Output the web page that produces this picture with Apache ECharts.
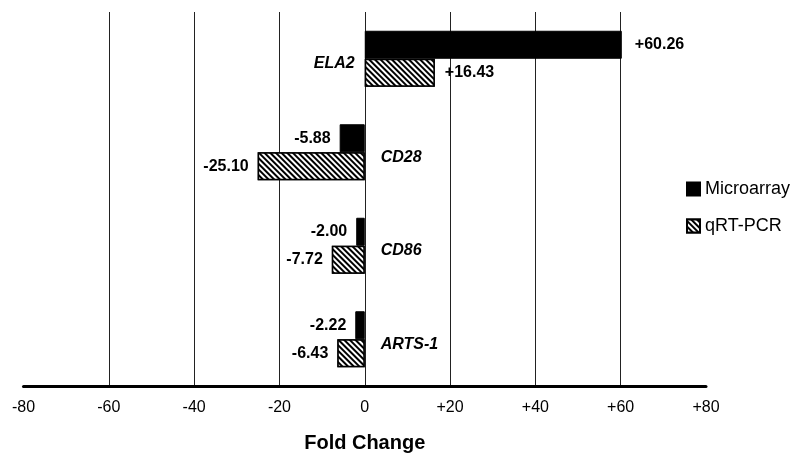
<!DOCTYPE html>
<html><head><meta charset="utf-8">
<script src="https://cdn.jsdelivr.net/npm/echarts@6/dist/echarts.min.js"></script>
<style>html,body{margin:0;padding:0;background:#fff}#c{width:799px;height:453px}</style>
</head><body><div id="c"></div>
<script>
const categories = ['ELA2', 'CD28', 'CD86', 'ARTS-1'];
const microarray = [60.26, -5.88, -2.00, -2.22];
const qrtpcr = [16.43, -25.10, -7.72, -6.43];
const tickLabels = {'-80':'-80','-60':'-60','-40':'-40','-20':'-20','0':'0','20':'+20','40':'+40','60':'+60','80':'+80'};

const FONT = 'Liberation Sans, Arial, sans-serif';
const fmt = v => (v > 0 ? '+' : '') + v.toFixed(2);
const valLabel = {
  show: true, fontFamily: FONT, fontWeight: 'bold', fontSize: 16, color: '#000',
  formatter: p => fmt(p.value)
};
function withPos(arr, distPos, distNeg) {
  return arr.map(v => ({value: v, label: {position: v >= 0 ? 'right' : 'left', distance: v >= 0 ? distPos : distNeg}}));
}
const chart = echarts.init(document.getElementById('c'), null, {renderer: 'canvas'});
chart.setOption({
  animation: false,
  backgroundColor: '#fff',
  grid: {left: 23.5, right: 93, top: 12, bottom: 67, containLabel: false, outerBoundsMode: 'none'},
  legend: {
    orient: 'vertical', left: 681, top: 175, itemWidth: 13, itemHeight: 13, itemGap: 19, icon: 'rect',
    textStyle: {fontFamily: FONT, fontSize: 18, color: '#000'},
    data: ['Microarray', 'qRT-PCR']
  },
  xAxis: {
    type: 'value', min: -80, max: 80, interval: 20,
    axisLine: {show: true, onZero: false, lineStyle: {color: '#000', width: 3}},
    axisTick: {show: false},
    axisLabel: {margin: 14, fontFamily: FONT, fontSize: 16, color: '#000', formatter: v => tickLabels[String(v)]},
    splitLine: {show: true, lineStyle: {width: 1, color: ['rgba(0,0,0,0)', '#222', '#222', '#222', '#222', '#222', '#222', '#222', 'rgba(0,0,0,0)']}},
    name: 'Fold Change', nameLocation: 'middle', nameGap: 47,
    nameTextStyle: {fontFamily: FONT, fontWeight: 'bold', fontSize: 20, color: '#000'}
  },
  yAxis: {
    type: 'category', data: categories, inverse: true,
    axisLine: {show: false}, axisTick: {show: false}, axisLabel: {show: false}, splitLine: {show: false}
  },
  series: [
    {
      name: 'Microarray', type: 'bar', barWidth: 28, barGap: '0%',
      itemStyle: {color: '#000', borderColor: '#000', borderWidth: 1},
      label: valLabel,
      data: withPos(microarray, 13, 9)
    },
    {
      name: 'qRT-PCR', type: 'bar', barWidth: 28, barGap: '0%',
      itemStyle: {color: '#fff', borderColor: '#000', borderWidth: 1.5,
        decal: {symbol: 'rect', symbolSize: 1, color: '#000', backgroundColor: '#fff', dashArrayX: [1, 0], dashArrayY: [2, 2], rotation: Math.PI / 4}},
      label: valLabel,
      data: withPos(qrtpcr, 10, 9)
    },
    {
      name: 'genes', type: 'scatter', symbolSize: 0, silent: true, z: 5,
      itemStyle: {opacity: 1},
      data: categories.map((c, i) => ({
        value: [0, c],
        label: {show: true, formatter: c, position: microarray[i] >= 0 ? 'left' : 'right',
          distance: microarray[i] >= 0 ? 10 : 16, offset: [0, 5], opacity: 1,
          fontFamily: FONT, fontWeight: 'bold', fontStyle: 'italic', fontSize: 16, color: '#000'}
      }))
    }
  ]
});
</script></body></html>
